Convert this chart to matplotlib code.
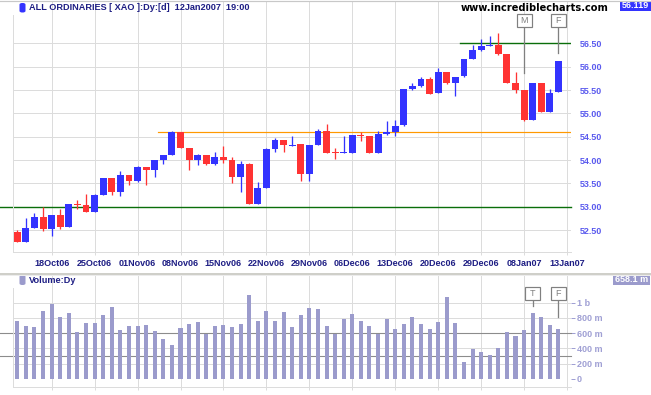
import matplotlib
matplotlib.use("Agg")
import matplotlib.pyplot as plt
from matplotlib.patches import Rectangle, FancyBboxPatch
from matplotlib.lines import Line2D
import numpy as np

# ---------------- data ----------------
dates = ["12Oct06", "13Oct06", "16Oct06", "17Oct06", "18Oct06", "19Oct06", "20Oct06",
         "23Oct06", "24Oct06", "25Oct06", "26Oct06", "27Oct06", "30Oct06", "31Oct06",
         "01Nov06", "02Nov06", "03Nov06", "06Nov06", "07Nov06", "08Nov06", "09Nov06",
         "10Nov06", "13Nov06", "14Nov06", "15Nov06", "16Nov06", "17Nov06", "20Nov06",
         "21Nov06", "22Nov06", "23Nov06", "24Nov06", "27Nov06", "28Nov06", "29Nov06",
         "30Nov06", "01Dec06", "04Dec06", "05Dec06", "06Dec06", "07Dec06", "08Dec06",
         "11Dec06", "12Dec06", "13Dec06", "14Dec06", "15Dec06", "18Dec06", "19Dec06",
         "20Dec06", "21Dec06", "22Dec06", "27Dec06", "28Dec06", "29Dec06", "02Jan07",
         "03Jan07", "04Jan07", "05Jan07", "08Jan07", "09Jan07", "10Jan07", "11Jan07",
         "12Jan07"]

opens = [52.46, 52.24, 52.55, 52.78, 52.53, 52.82, 52.57, 53.05, 53.04, 52.89,
         53.26, 53.61, 53.32, 53.68, 53.54, 53.85, 53.79, 53.99, 54.11, 54.59,
         54.26, 54.01, 54.11, 53.92, 54.07, 54.00, 53.64, 53.91, 53.05, 53.41,
         54.24, 54.43, 54.30, 54.34, 53.69, 54.33, 54.62, 54.16, 54.14, 54.16,
         54.54, 54.51, 54.16, 54.56, 54.59, 54.74, 55.53, 55.59, 55.74, 55.43,
         55.89, 55.64, 55.79, 56.17, 56.36, 56.45, 56.46, 56.27, 55.65, 55.50,
         54.86, 55.65, 55.03, 55.45]
highs = [52.50, 52.76, 52.87, 53.00, 52.82, 52.96, 53.06, 53.14, 53.27, 53.27,
         53.62, 53.62, 53.77, 53.68, 53.87, 53.85, 53.99, 54.11, 54.63, 54.59,
         54.26, 54.13, 54.11, 54.17, 54.30, 54.07, 53.98, 53.94, 53.53, 54.26,
         54.47, 54.43, 54.51, 54.34, 54.32, 54.67, 54.77, 54.26, 54.51, 54.54,
         54.60, 54.51, 54.62, 54.84, 54.86, 55.52, 55.66, 55.77, 55.78, 55.97,
         55.89, 55.78, 56.16, 56.46, 56.59, 56.66, 56.72, 56.27, 55.89, 55.50,
         55.65, 55.65, 55.52, 56.12]
lows = [52.24, 52.24, 52.55, 52.48, 52.37, 52.53, 52.57, 52.96, 52.89, 52.89,
        53.26, 53.26, 53.23, 53.47, 53.53, 53.47, 53.64, 53.91, 54.11, 54.26,
        53.79, 53.89, 53.90, 53.90, 53.94, 53.51, 53.32, 53.05, 53.05, 53.41,
        54.17, 54.17, 54.30, 53.54, 53.54, 54.33, 54.14, 54.02, 54.14, 54.16,
        54.40, 54.16, 54.16, 54.54, 54.51, 54.73, 55.49, 55.57, 55.42, 55.43,
        55.62, 55.38, 55.78, 56.17, 56.34, 56.45, 56.24, 55.66, 55.44, 54.84,
        54.86, 55.03, 55.03, 55.45]
closes = [52.24, 52.54, 52.78, 52.53, 52.82, 52.57, 53.06, 53.03, 52.89, 53.24,
          53.61, 53.32, 53.68, 53.54, 53.85, 53.79, 53.99, 54.11, 54.59, 54.26,
          54.01, 54.11, 53.92, 54.07, 54.01, 53.64, 53.91, 53.05, 53.40, 54.24,
          54.43, 54.33, 54.33, 53.69, 54.32, 54.62, 54.16, 54.15, 54.15, 54.54,
          54.52, 54.16, 54.56, 54.59, 54.73, 55.52, 55.59, 55.74, 55.42, 55.89,
          55.64, 55.78, 56.16, 56.36, 56.44, 56.47, 56.27, 55.66, 55.50, 54.86,
          55.65, 55.03, 55.44, 56.12]
volumes_m = [760, 694, 681, 891, 982, 812, 864, 611, 733, 733,
             838, 943, 642, 694, 694, 707, 629, 524, 445, 668,
             720, 747, 589, 694, 707, 681, 720, 1100, 760, 891,
             760, 877, 681, 838, 930, 917, 694, 589, 786, 851,
             760, 694, 589, 786, 655, 720, 812, 720, 655, 747,
             1074, 733, 223, 393, 354, 314, 406, 616, 563, 642,
             864, 812, 707, 658]

tick_labels = ["18Oct06", "25Oct06", "01Nov06", "08Nov06", "15Nov06", "22Nov06",
               "29Nov06", "06Dec06", "13Dec06", "20Dec06", "29Dec06", "08Jan07", "13Jan07"]
price_ticks = [52.5, 53.0, 53.5, 54.0, 54.5, 55.0, 55.5, 56.0, 56.5]
price_tick_labels = ["52.50", "53.00", "53.50", "54.00", "54.50", "55.00", "55.50", "56.00", "56.50"]
vol_ticks = [0, 200, 400, 600, 800, 1000]
vol_tick_labels = ["0", "200 m", "400 m", "600 m", "800 m", "1 b"]

title = "ALL ORDINARIES [ XAO ]:Dy:[d]  12Jan2007  19:00"
last_price_label = "56.119"
last_volume_label = "658.1 m"

green_level_low = 53.00
green_level_high = 56.50
orange_level = 54.59
vol_ref_lines = [600, 300]

# ---------------- figure ----------------
W, H = 651, 395
fig = plt.figure(figsize=(W / 100, H / 100), dpi=100)
fig.patch.set_facecolor("white")


def fx(x):
    return x / W


def fy(y):
    return 1 - y / H


PX = 72 / 100  # points per pixel
GRID = "#dcdcdc"
BLUE = "#3333ff"
RED = "#ff3333"
NAVY = "#1e1e84"
VOLC = "#9b9bcc"
FONT = "Liberation Sans"

n = len(dates)
idx = np.arange(n)
xl = (-0.5, 64.46)


def tick_pos(lbl):
    return dates.index(lbl) if lbl in dates else n


xt = [tick_pos(t) for t in tick_labels]

# ---------------- price panel ----------------
ax = fig.add_axes([fx(13), fy(252), fx(571 - 13), (252 - 2) / H])
ax.set_xlim(*xl)
ax.set_ylim(52.029, 57.386)
ax.set_facecolor("none")
for s in ["top", "right"]:
    ax.spines[s].set_visible(False)
ax.spines["left"].set_color(GRID)
ax.spines["left"].set_linewidth(PX)
ax.spines["left"].set_bounds(52.029, 57.107)
ax.spines["bottom"].set_color(GRID)
ax.spines["bottom"].set_linewidth(PX)

for v in price_ticks:
    ax.axhline(v, color=GRID, lw=PX, zorder=0)
for v in xt:
    ax.axvline(v, color=GRID, lw=PX, zorder=0)

ax.set_xticks(xt)
ax.set_xticklabels(tick_labels, fontfamily=FONT, fontweight="bold", fontsize=6.5, color=NAVY)
ax.tick_params(axis="x", length=3 * PX, width=PX, color=GRID, pad=3)
ax.yaxis.tick_right()
ax.set_yticks(price_ticks)
ax.set_yticklabels(price_tick_labels, fontfamily=FONT, fontweight="bold", fontsize=6.5, color="#5a5aee")
ax.tick_params(axis="y", length=0, pad=6)

o = np.array(opens)
c = np.array(closes)
hi = np.array(highs)
lo = np.array(lows)
up = c >= o
cols = np.where(up, BLUE, RED)
ax.vlines(idx, lo, hi, colors=cols, lw=1.0 * PX * 1.3, zorder=3)
body_bot = np.minimum(o, c)
body_h = np.maximum(np.abs(c - o), 0.022)
ax.bar(idx, body_h, bottom=body_bot, width=0.8, color=cols, linewidth=0, zorder=4)

# reference lines
ax.plot([-2.02, xl[1]], [green_level_low] * 2, color="#0a6e0a", lw=1.4 * PX, clip_on=False, zorder=2)
ax.plot([51.5, xl[1]], [green_level_high] * 2, color="#0a6e0a", lw=1.4 * PX, zorder=2)
ax.plot([16.4, xl[1]], [orange_level] * 2, color="#ff9900", lw=1.2 * PX, zorder=2)


def marker_box(axis, xi, ytop, ybot, yline_end, letter):
    w = 15 / 8.59
    axis.add_patch(Rectangle((xi - w / 2, ybot), w, ytop - ybot, facecolor="white",
                             edgecolor="#808080", lw=PX * 1.2, zorder=6, clip_on=False))
    axis.text(xi, (ytop + ybot) / 2, letter, ha="center", va="center", fontsize=6.5,
              fontfamily=FONT, color="#808080", zorder=7)
    axis.plot([xi, xi], [ybot, yline_end], color="#808080", lw=PX * 1.3, zorder=5)


marker_box(ax, 59, 57.13, 56.85, 55.86, "M")
marker_box(ax, 63, 57.13, 56.85, 56.30, "F")

# ---------------- volume panel ----------------
av = fig.add_axes([fx(13), fy(387), fx(571 - 13), (387 - 275) / H])
av.set_xlim(*xl)
av.set_ylim(-104.8, 1362)
av.set_facecolor("none")
for s in ["top", "right"]:
    av.spines[s].set_visible(False)
av.spines["left"].set_color(GRID)
av.spines["left"].set_linewidth(PX)
av.spines["left"].set_bounds(-104.8, 1192)
av.spines["bottom"].set_color(GRID)
av.spines["bottom"].set_linewidth(PX)

for v in vol_ticks[1:]:
    av.axhline(v, color=GRID, lw=PX, zorder=0)
for v in xt:
    av.axvline(v, color=GRID, lw=PX, zorder=0)
av.set_xticks(xt)
av.set_xticklabels([])
av.tick_params(axis="x", length=3 * PX, width=PX, color=GRID)
av.yaxis.tick_right()
av.set_yticks(vol_ticks)
av.set_yticklabels(vol_tick_labels, fontfamily=FONT, fontweight="bold", fontsize=6.5, color="#a0a0d4")
av.tick_params(axis="y", length=4 * PX, width=PX, color="#a0a0d4", pad=1.5)

av.bar(idx, volumes_m, width=0.47, color=VOLC, linewidth=0, zorder=3)
for v in vol_ref_lines:
    av.plot([-2.02, xl[1]], [v, v], color="#8c8c8c", lw=1.1 * PX, clip_on=False, zorder=2)

marker_box(av, 60, 1209, 1035, 960, "T")
marker_box(av, 63, 1209, 1035, 816, "F")

# ---------------- texts / frame ----------------
fig.patches.append(FancyBboxPatch((fx(19.5), fy(12.5)), fx(6), 9.5 / H,
                                  boxstyle="round,pad=0,rounding_size=0.004",
                                  transform=fig.transFigure, facecolor=BLUE, edgecolor="none"))
fig.text(fx(29), fy(7.6), title, fontfamily=FONT, fontweight="bold", fontsize=6.6,
         color=NAVY, va="center", ha="left")
fig.text(fx(608.5), fy(8.2), "www.incrediblecharts.com", fontfamily="DejaVu Sans",
         fontweight="bold", fontsize=7.1, color="black", va="center", ha="right")
fig.patches.append(Rectangle((fx(619.5), fy(10.7)), fx(31), 9.7 / H,
                             transform=fig.transFigure, facecolor=BLUE, edgecolor="none"))
fig.text(fx(635), fy(5.9), last_price_label, fontfamily=FONT, fontweight="bold", fontsize=6.5,
         color="white", va="center", ha="center")

fig.patches.append(FancyBboxPatch((fx(19.5), fy(285)), fx(6), 10 / H,
                                  boxstyle="round,pad=0,rounding_size=0.004",
                                  transform=fig.transFigure, facecolor=VOLC, edgecolor="none"))
fig.text(fx(29), fy(280.3), "Volume:Dy", fontfamily=FONT, fontweight="bold", fontsize=6.6,
         color=NAVY, va="center", ha="left")
fig.patches.append(Rectangle((fx(613), fy(285)), fx(37), 10 / H,
                             transform=fig.transFigure, facecolor=VOLC, edgecolor="none"))
fig.text(fx(631.5), fy(280), last_volume_label, fontfamily=FONT, fontweight="bold", fontsize=6.5,
         color="white", va="center", ha="center")

# frame lines
fig.lines.append(Line2D([0, 1], [fy(0.5), fy(0.5)], transform=fig.transFigure, color="#c8c8c8", lw=1.2 * PX))
fig.lines.append(Line2D([0, 1], [fy(273.5), fy(273.5)], transform=fig.transFigure, color="#c4c4bc", lw=1.6 * PX))
fig.lines.append(Line2D([0, 1], [fy(275), fy(275)], transform=fig.transFigure, color="#ececec", lw=1.0 * PX))

fig.savefig("out.png", dpi=100, facecolor="white")
